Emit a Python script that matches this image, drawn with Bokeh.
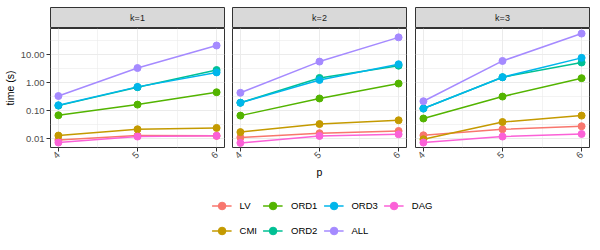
import math
from bokeh.plotting import figure
from bokeh.models import (Range1d, FixedTicker, PrintfTickFormatter, Legend,
                          LegendItem, ColumnDataSource)
from bokeh.layouts import row, column
from bokeh.embed import file_html
from bokeh.resources import INLINE
from bokeh.core.properties import value

# ---------------- data ----------------
p_values = [4, 5, 6]
methods = ["LV", "CMI", "ORD1", "ORD2", "ORD3", "ALL", "DAG"]
colors = ["#F8766D", "#C49A00", "#53B400", "#00C094", "#00B6EB", "#A58AFF", "#FB61D7"]
panel_labels = ["k=1", "k=2", "k=3"]

times_k1 = {
    "LV":   [0.0089, 0.0128, 0.0125],
    "CMI":  [0.0128, 0.0215, 0.024],
    "ORD1": [0.068, 0.163, 0.45],
    "ORD2": [0.15, 0.68, 2.8],
    "ORD3": [0.155, 0.70, 2.3],
    "ALL":  [0.33, 3.3, 21.0],
    "DAG":  [0.0072, 0.0118, 0.0125],
}
times_k2 = {
    "LV":   [0.011, 0.0155, 0.0187],
    "CMI":  [0.017, 0.033, 0.045],
    "ORD1": [0.066, 0.27, 0.92],
    "ORD2": [0.19, 1.46, 4.0],
    "ORD3": [0.19, 1.24, 4.5],
    "ALL":  [0.43, 5.6, 41.0],
    "DAG":  [0.0070, 0.0124, 0.0142],
}
times_k3 = {
    "LV":   [0.0131, 0.0215, 0.0275],
    "CMI":  [0.0094, 0.039, 0.066],
    "ORD1": [0.052, 0.316, 1.43],
    "ORD2": [0.118, 1.55, 5.2],
    "ORD3": [0.118, 1.55, 7.6],
    "ALL":  [0.215, 5.9, 56.0],
    "DAG":  [0.0072, 0.0118, 0.0146],
}
y_ticks = [0.01, 0.1, 1, 10]
y_minor = [10 ** -2.5, 10 ** -1.5, 10 ** -0.5, 10 ** 0.5, 10 ** 1.5]
x_minor = [4.5, 5.5]

FONT = "Liberation Sans"
FW, FH, SH = 174, 119, 21
lefts = [44, 0, 0]
rights = [8, 9, 1]

cols = []
for i, (lab, data) in enumerate(zip(panel_labels, [times_k1, times_k2, times_k3])):
    # strip
    s = figure(frame_width=FW, frame_height=SH, x_range=Range1d(0, 1), y_range=Range1d(0, 1),
               toolbar_location=None, output_backend="svg",
               min_border_left=lefts[i], min_border_right=rights[i],
               min_border_top=7, min_border_bottom=0,
               x_axis_location=None, y_axis_location=None)
    s.grid.visible = False
    s.background_fill_color = "#D9D9D9"
    s.border_fill_color = None
    s.outline_line_color = "#333333"
    s.outline_line_width = 1
    s.text(x=[0.5], y=[0.5], text=[lab], text_align="center", text_baseline="middle",
           text_font=value(FONT), text_font_size="9px", text_color="#1A1A1A")

    p = figure(frame_width=FW, frame_height=FH, y_axis_type="log",
               x_range=Range1d(3.9, 6.1), y_range=Range1d(0.0048, 85),
               toolbar_location=None, output_backend="svg",
               min_border_left=lefts[i], min_border_right=rights[i],
               min_border_top=0, min_border_bottom=47,
               y_axis_location="left" if i == 0 else None)
    p.background_fill_color = "white"
    p.border_fill_color = None
    p.outline_line_color = "#333333"
    p.outline_line_width = 1

    p.xaxis.ticker = FixedTicker(ticks=p_values)
    p.xgrid.ticker = FixedTicker(ticks=p_values, minor_ticks=x_minor)
    p.ygrid.ticker = FixedTicker(ticks=y_ticks, minor_ticks=y_minor)
    for g in (p.xgrid, p.ygrid):
        g.grid_line_color = "#EBEBEB"
        g.grid_line_width = 1
        g.minor_grid_line_color = "#EBEBEB"
        g.minor_grid_line_width = 0.6

    axes = [p.xaxis[0]] + ([p.yaxis[0]] if i == 0 else [])
    for ax in axes:
        ax.axis_line_color = None
        ax.major_tick_line_color = "#333333"
        ax.major_tick_in = 0
        ax.major_tick_out = 4
        ax.minor_tick_line_color = None
        ax.major_label_text_font = FONT
        ax.major_label_text_font_size = "9.5px"
        ax.major_label_text_color = "#4D4D4D"
        ax.major_label_standoff = 2
        ax.axis_label_text_font = FONT
        ax.axis_label_text_font_size = "10.5px"
        ax.axis_label_text_font_style = "normal"
        ax.axis_label_text_color = "#000000"
        ax.axis_label_standoff = 2
    p.xaxis.major_label_orientation = math.pi / 4
    if i == 1:
        p.xaxis.axis_label = "p"
    if i == 0:
        p.yaxis.ticker = FixedTicker(ticks=y_ticks)
        p.yaxis.formatter = PrintfTickFormatter(format="%.2f")
        p.yaxis.axis_label = "time (s)"

    for m, c in zip(methods, colors):
        p.line(p_values, data[m], line_color=c, line_width=1.5)
    for m, c in zip(methods, colors):
        p.scatter(p_values, data[m], size=7, fill_color=c, line_color=c)

    cols.append(column(s, p, spacing=0))

# legend figure (renderers hold real data but lie outside the visible range)
lf = figure(frame_width=524, frame_height=48, toolbar_location=None, output_backend="svg",
            min_border_left=60, min_border_right=0, min_border_top=0, min_border_bottom=0,
            x_axis_location=None, y_axis_location=None,
            x_range=Range1d(0, 1), y_range=Range1d(0, 1))
lf.grid.visible = False
lf.outline_line_color = None
lf.background_fill_color = None
lf.border_fill_color = None
items = []
for m, c in zip(methods, colors):
    src = ColumnDataSource(data=dict(x=p_values, y=times_k1[m]))
    lr = lf.line("x", "y", source=src, line_color=c, line_width=1.5)
    sr = lf.scatter("x", "y", source=src, size=7, fill_color=c, line_color=c)
    items.append(LegendItem(label=m, renderers=[lr, sr]))
leg = Legend(items=items, orientation="vertical", nrows=2, location="center",
             glyph_width=20, glyph_height=19, label_height=19, label_width=10,
             spacing=6, label_standoff=8, padding=0, margin=0,
             border_line_color=None, background_fill_alpha=0,
             label_text_font=FONT, label_text_font_size="9.5px",
             label_text_color="#000000")
lf.add_layout(leg)

layout = column(row(*cols, spacing=0), lf, spacing=0)
open("out.html", "w").write(file_html(layout, INLINE))
